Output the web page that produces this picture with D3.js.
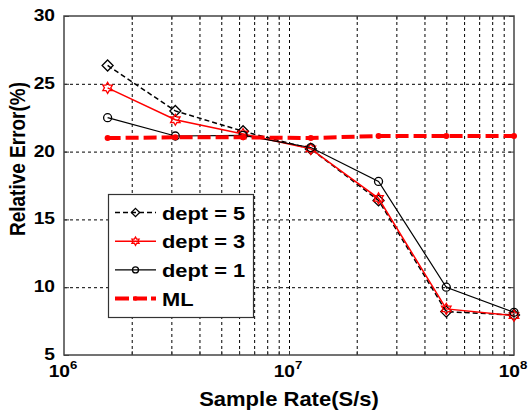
<!DOCTYPE html>
<html>
<head>
<meta charset="utf-8">
<script src="https://cdn.jsdelivr.net/npm/d3@7"></script>
<style>
  body { margin: 0; background: #fff; }
  text { font-family: "Liberation Sans", Arial, sans-serif; font-weight: bold; fill: #000; }
</style>
</head>
<body>
<div id="chart"></div>
<script>
// Data
var rates = [1.5625e6, 3.125e6, 6.25e6, 12.5e6, 25e6, 50e6, 100e6];
var dept5 = [26.35, 23.0, 21.5, 20.2, 16.4, 8.2, 7.95];
var dept3 = [24.7, 22.35, 21.3, 20.2, 16.55, 8.4, 7.9];
var dept1 = [22.5, 21.15, 21.2, 20.3, 17.8, 10.0, 8.15];
var ml    = [21.0, 21.05, 21.05, 21.0, 21.15, 21.15, 21.15];
var seriesNames = ["dept = 5", "dept = 3", "dept = 1", "ML"];
var yTicks = [5, 10, 15, 20, 25, 30];
var xMajor = [1e6, 1e7, 1e8];
var xExp = ["6", "7", "8"];

var margin = { top: 16, right: 17, bottom: 64, left: 64 },
    width = 531 - margin.left - margin.right,
    height = 419 - margin.top - margin.bottom;

var svg = d3.select("#chart")
  .append("svg")
    .attr("width", 531)
    .attr("height", 419);

var g = svg.append("g")
  .attr("transform", "translate(" + margin.left + "," + margin.top + ")");

var x = d3.scaleLog().domain([1e6, 1e8]).range([0, width]);
var y = d3.scaleLinear().domain([5, 30]).range([height, 0]);

// minor positions 2..9 per decade plus 10^7
var xMinor = [];
[1e6, 1e7].forEach(function (d) {
  for (var k = 2; k <= 9; k++) xMinor.push(d * k);
});
var xGrid = xMinor.concat([1e7]);

// grid lines (dotted)
g.append("g")
  .attr("class", "grid")
  .attr("transform", "translate(0," + height + ")")
  .call(d3.axisBottom(x).tickValues(xGrid).tickSize(-height).tickFormat(""))
  .call(function (s) { s.select(".domain").remove(); })
  .selectAll("line")
    .attr("stroke", "#000")
    .attr("stroke-width", 1)
    .attr("stroke-dasharray", "3,3");

g.append("g")
  .attr("class", "grid")
  .call(d3.axisLeft(y).tickValues([10, 15, 20, 25]).tickSize(-width).tickFormat(""))
  .call(function (s) { s.select(".domain").remove(); })
  .selectAll("line")
    .attr("stroke", "#000")
    .attr("stroke-width", 1)
    .attr("stroke-dasharray", "3,3");

// inward ticks on all four sides
function tickStyle(s) {
  s.select(".domain").remove();
  s.selectAll("line").attr("stroke", "#333").attr("stroke-width", 1);
}
g.append("g").attr("transform", "translate(0," + height + ")")
  .call(d3.axisBottom(x).tickValues(xGrid).tickSize(-4).tickFormat("")).call(tickStyle);
g.append("g")
  .call(d3.axisTop(x).tickValues(xGrid).tickSize(-4).tickFormat("")).call(tickStyle);
g.append("g")
  .call(d3.axisLeft(y).tickValues(yTicks).tickSize(-5).tickFormat("")).call(tickStyle);
g.append("g").attr("transform", "translate(" + width + ",0)")
  .call(d3.axisRight(y).tickValues(yTicks).tickSize(-5).tickFormat("")).call(tickStyle);

// frame
g.append("rect")
  .attr("width", width)
  .attr("height", height)
  .attr("fill", "none")
  .attr("stroke", "#444")
  .attr("stroke-width", 1.5);

// text helper: glyphs look a little wide in the picture
function label(parent, px, py, str, size, anchor, sx) {
  return parent.append("text")
    .attr("transform", "translate(" + px + "," + py + ") scale(" + sx + ",1)")
    .attr("text-anchor", anchor)
    .style("font-size", size + "px")
    .text(str);
}

// y tick labels
yTicks.forEach(function (t) {
  label(g, -9, y(t) + 5, t, 16, "end", 1.2);
});

// x tick labels with exponent
xMajor.forEach(function (t, i) {
  var tx = g.append("text")
    .attr("transform", "translate(" + (x(t) - 1) + "," + (height + 22) + ") scale(1.2,1)")
    .attr("text-anchor", "middle")
    .style("font-size", "16px");
  tx.append("tspan").text("10");
  tx.append("tspan").attr("dy", -8).style("font-size", "11px").text(xExp[i]);
});

// axis titles
label(g, width / 2, height + 51, "Sample Rate(S/s)", 20, "middle", 1.1);
g.append("text")
  .attr("transform", "translate(" + (25 - margin.left) + ",143) rotate(-90) scale(1,1.12)")
  .attr("text-anchor", "middle")
  .style("font-size", "19px")
  .text("Relative Error(%)");

// markers
function hexagram(r) {
  var pts = [];
  for (var k = 0; k < 12; k++) {
    var a = -Math.PI / 2 + k * Math.PI / 6;
    var rr = k % 2 === 0 ? r : r / Math.sqrt(3);
    pts.push([rr * Math.cos(a), rr * Math.sin(a)]);
  }
  return "M" + pts.join("L") + "Z";
}
function diamond(r) {
  return "M0," + (-r) + "L" + r + ",0L0," + r + "L" + (-r) + ",0Z";
}

var series = [
  { name: seriesNames[0], values: dept5, color: "#000", width: 1.5, dash: "5,3", marker: "diamond" },
  { name: seriesNames[1], values: dept3, color: "#f00", width: 1.5, dash: null, marker: "hex" },
  { name: seriesNames[2], values: dept1, color: "#000", width: 1.2, dash: null, marker: "circle" },
  { name: seriesNames[3], values: ml, color: "#f00", width: 4, dash: "13,5", marker: "dot" }
];

function drawMarker(parent, s, cx, cy, scale) {
  if (s.marker === "diamond") {
    parent.append("path").attr("d", diamond(5.5 * scale))
      .attr("transform", "translate(" + cx + "," + cy + ")")
      .attr("fill", "none").attr("stroke", s.color).attr("stroke-width", 1.3);
  } else if (s.marker === "hex") {
    parent.append("path").attr("d", hexagram(5.5 * scale))
      .attr("transform", "translate(" + cx + "," + cy + ")")
      .attr("fill", "none").attr("stroke", s.color).attr("stroke-width", 1.3);
  } else if (s.marker === "circle") {
    parent.append("circle").attr("cx", cx).attr("cy", cy).attr("r", 4 * scale)
      .attr("fill", "none").attr("stroke", s.color).attr("stroke-width", 1.3);
  } else {
    parent.append("circle").attr("cx", cx).attr("cy", cy).attr("r", 3 * scale)
      .attr("fill", s.color);
  }
}

var line = d3.line()
  .x(function (d, i) { return x(rates[i]); })
  .y(function (d) { return y(d); });

series.forEach(function (s) {
  var sg = g.append("g");
  sg.append("path")
    .attr("d", line(s.values))
    .attr("fill", "none")
    .attr("stroke", s.color)
    .attr("stroke-width", s.width)
    .attr("stroke-dasharray", s.dash);
  s.values.forEach(function (v, i) {
    drawMarker(sg, s, x(rates[i]), y(v), 1);
  });
});

// legend
var lg = svg.append("g");
lg.append("rect")
  .attr("x", 108.5).attr("y", 194.5)
  .attr("width", 145).attr("height", 123)
  .attr("fill", "#fff")
  .attr("stroke", "#333")
  .attr("stroke-width", 1.2);

series.forEach(function (s, i) {
  var cy = 212.5 + i * 28.7;
  lg.append("line")
    .attr("x1", 115).attr("x2", 156)
    .attr("y1", cy).attr("y2", cy)
    .attr("stroke", s.color)
    .attr("stroke-width", s.width)
    .attr("stroke-dasharray", s.dash === "13,5" ? "14,4" : s.dash);
  drawMarker(lg, s, 135.5, cy, 0.75);
  label(lg, 162, cy + 7, s.name, 19, "start", 1.15);
});
</script>
</body>
</html>
